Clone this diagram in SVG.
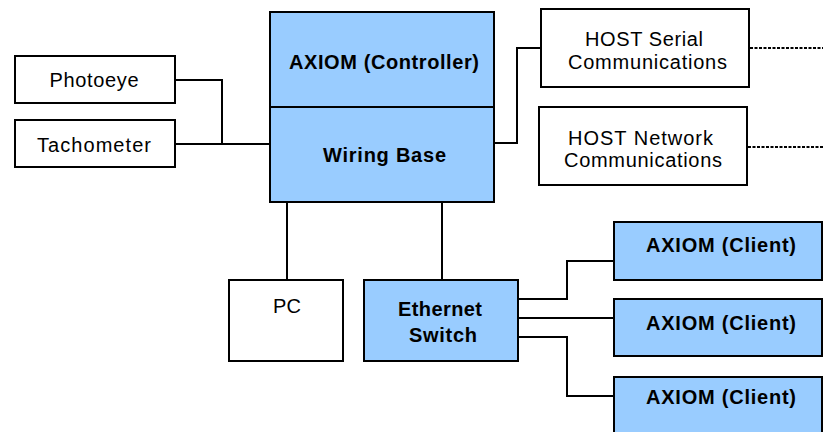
<svg xmlns="http://www.w3.org/2000/svg" width="823" height="432" viewBox="0 0 823 432">
<style>
.box{stroke:#000;stroke-width:2}
.w{fill:#fff}
.b{fill:#99ccff}
.t{font-family:"Liberation Sans",Arial,sans-serif;font-size:20px;fill:#000;text-anchor:middle}
.bold{font-weight:bold}
.c{fill:none;stroke:#000;stroke-width:2}
.d{fill:none;stroke:#000;stroke-width:2;stroke-dasharray:3 1.5}
</style>
<rect width="823" height="432" fill="#fff"/>
<g id="connectors">
<polyline class="c" points="175,80 222,80 222,144"/>
<line class="c" x1="175" y1="144" x2="270" y2="144"/>
<polyline class="c" points="494,143 517,143 517,48 541,48"/>
<line class="c" x1="287" y1="202" x2="287" y2="280"/>
<line class="c" x1="442" y1="202" x2="442" y2="280"/>
<polyline class="c" points="518,299 567,299 567,261 614,261"/>
<line class="c" x1="518" y1="318" x2="614" y2="318"/>
<polyline class="c" points="518,337 567,337 567,396 614,396"/>
<line class="d" x1="750" y1="48" x2="823" y2="48"/>
<line class="d" x1="748" y1="147" x2="823" y2="147"/>
</g>
<g id="photoeye">
<rect class="box w" x="15" y="56" width="160" height="47"/>
<text class="t" x="94" y="87" textLength="89">Photoeye</text>
</g>
<g id="tachometer">
<rect class="box w" x="15" y="120" width="160" height="47"/>
<text class="t" x="94" y="151.5" textLength="114">Tachometer</text>
</g>
<g id="controller">
<rect class="box b" x="270" y="12" width="224" height="95"/>
<text class="t bold" x="384" y="69" textLength="190">AXIOM (Controller)</text>
</g>
<g id="wiring-base">
<rect class="box b" x="270" y="107" width="224" height="95"/>
<text class="t bold" x="384.5" y="162" textLength="123">Wiring Base</text>
</g>
<g id="host-serial">
<rect class="box w" x="541" y="9" width="208" height="78"/>
<text class="t" x="644" y="46" textLength="118">HOST Serial</text>
<text class="t" x="647.5" y="68.5" textLength="159">Communications</text>
</g>
<g id="host-network">
<rect class="box w" x="539" y="107" width="208" height="78"/>
<text class="t" x="640.5" y="145" textLength="145">HOST Network</text>
<text class="t" x="643" y="167" textLength="158">Communications</text>
</g>
<g id="pc">
<rect class="box w" x="229" y="280" width="114" height="81"/>
<text class="t" x="287" y="313" textLength="28">PC</text>
</g>
<g id="ethernet-switch">
<rect class="box b" x="364" y="280" width="154" height="81"/>
<text class="t bold" x="440" y="316" textLength="84">Ethernet</text>
<text class="t bold" x="443" y="342" textLength="68">Switch</text>
</g>
<g id="client1">
<rect class="box b" x="614" y="222" width="208" height="58"/>
<text class="t bold" x="721" y="252" textLength="150">AXIOM (Client)</text>
</g>
<g id="client2">
<rect class="box b" x="614" y="299" width="208" height="57"/>
<text class="t bold" x="721" y="330" textLength="150">AXIOM (Client)</text>
</g>
<g id="client3">
<rect class="box b" x="614" y="377" width="208" height="60"/>
<text class="t bold" x="721" y="404" textLength="150">AXIOM (Client)</text>
</g>
</svg>
